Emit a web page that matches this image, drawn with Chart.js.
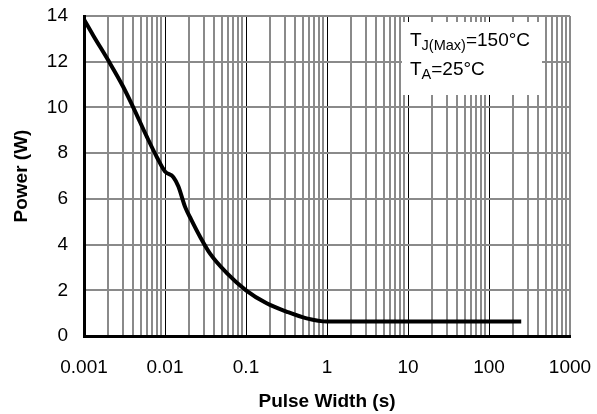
<!DOCTYPE html>
<html>
<head>
<meta charset="utf-8">
<script src="https://cdn.jsdelivr.net/npm/chart.js@4/dist/chart.umd.min.js"></script>
<style>
  html, body { margin: 0; padding: 0; background: #fff; }
  #wrap { width: 597px; height: 414px; }
</style>
</head>
<body>
<div id="wrap"><canvas id="chartPower"></canvas></div>
<script>
// pulse width (s) vs peak power (W)
var pulseWidth = [0.001, 0.0013, 0.002, 0.003, 0.004, 0.006, 0.008, 0.01, 0.0127, 0.0146, 0.0177, 0.021, 0.027, 0.036, 0.058, 0.1, 0.18, 0.32, 0.56, 1, 250];
var power = [13.85, 13.15, 12.05, 10.95, 10.05, 8.7, 7.8, 7.2, 6.95, 6.55, 5.65, 5.1, 4.35, 3.6, 2.75, 2.0, 1.43, 1.06, 0.77, 0.63, 0.63];

var xDecades = [0.001, 0.01, 0.1, 1, 10, 100, 1000];
var xDecadeLabels = ["0.001", "0.01", "0.1", "1", "10", "100", "1000"];
var yTicks = [0, 2, 4, 6, 8, 10, 12, 14];

var noteLines = [
  { main: "T", sub: "J(Max)", rest: "=150°C" },
  { main: "T", sub: "A", rest: "=25°C" },
];

const FONT = "'Liberation Sans', Arial, sans-serif";
const GRID_GRAY = "#8a8a8a";

const isDecade = (v) => xDecades.some((d) => Math.abs(v - d) / d < 1e-6);

// keep the plot box where the picture has it, labels may hang outside
const noScalePadding = (scale) => {
  scale.paddingTop = 0;
  scale.paddingBottom = 0;
  scale.paddingLeft = 0;
  scale.paddingRight = 0;
};

// white box with the junction / ambient temperatures
const notePlugin = {
  id: "noteBox",
  afterDraw(chart) {
    const ctx = chart.ctx;
    const area = chart.chartArea;
    const bx = area.left + 318, by = area.top + 6;
    ctx.save();
    ctx.fillStyle = "#fff";
    ctx.fillRect(bx, by, 140, 73);
    ctx.fillStyle = "#000";
    ctx.textBaseline = "alphabetic";
    noteLines.forEach((ln, i) => {
      let x = bx + 8;
      const y = by + 24 + i * 28.5;
      ctx.font = "19px " + FONT;
      ctx.fillText(ln.main, x, y);
      x += ctx.measureText(ln.main).width;
      ctx.font = "14.5px " + FONT;
      ctx.fillText(ln.sub, x, y + 4);
      x += ctx.measureText(ln.sub).width;
      ctx.font = "19px " + FONT;
      ctx.fillText(ln.rest, x, y);
    });
    ctx.restore();
  },
};

const ctxPower = document.getElementById("chartPower").getContext("2d");
const powerChart = new Chart(ctxPower, {
  type: "line",
  data: {
    datasets: [
      {
        label: "Power",
        data: pulseWidth.map((x, i) => ({ x: x, y: power[i] })),
        borderColor: "#000",
        borderWidth: 4,
        pointRadius: 0,
        cubicInterpolationMode: "monotone",
        fill: false,
      },
    ],
  },
  options: {
    responsive: true,
    maintainAspectRatio: false,
    animation: false,
    layout: { padding: { left: 10, right: 27, top: 16, bottom: 0 } },
    plugins: {
      legend: { display: false },
      tooltip: { enabled: false },
    },
    scales: {
      x: {
        type: "logarithmic",
        min: xDecades[0],
        max: xDecades[xDecades.length - 1],
        afterBuildTicks: (scale) => {
          const ticks = [];
          for (let d = 0; d < xDecades.length - 1; d++) {
            for (let k = 1; k < 10; k++) ticks.push({ value: xDecades[d] * k });
          }
          ticks.push({ value: xDecades[xDecades.length - 1] });
          scale.ticks = ticks;
        },
        afterFit: (scale) => {
          scale.height = 78;
          noScalePadding(scale);
        },
        ticks: {
          autoSkip: false,
          maxRotation: 0,
          padding: 20,
          color: "#000",
          font: { family: FONT, size: 19 },
          callback: (v) => {
            const i = xDecades.findIndex((d) => Math.abs(v - d) / d < 1e-6);
            return i >= 0 ? xDecadeLabels[i] : "";
          },
        },
        grid: {
          drawTicks: false,
          color: (c) => {
            const v = c.tick ? c.tick.value : 0;
            return isDecade(v) && v < 1000 ? "#000" : GRID_GRAY;
          },
          lineWidth: (c) => {
            const v = c.tick ? c.tick.value : 0;
            return isDecade(v) && v < 1000 ? 1 : 2;
          },
        },
        border: { color: "#000", width: 3 },
        title: {
          display: true,
          text: "Pulse Width (s)",
          color: "#000",
          font: { family: FONT, size: 19, weight: "bold" },
          padding: { top: 0, bottom: 1 },
        },
      },
      y: {
        min: yTicks[0],
        max: yTicks[yTicks.length - 1],
        afterBuildTicks: (scale) => {
          scale.ticks = yTicks.map((v) => ({ value: v }));
        },
        afterFit: (scale) => {
          scale.width = 74;
          noScalePadding(scale);
        },
        ticks: {
          padding: 16,
          color: "#000",
          font: { family: FONT, size: 19 },
        },
        grid: { drawTicks: false, color: GRID_GRAY, lineWidth: 2 },
        border: { color: "#000", width: 3 },
        title: {
          display: true,
          text: "Power (W)",
          color: "#000",
          font: { family: FONT, size: 19, weight: "bold" },
          padding: { top: 0, bottom: 0 },
        },
      },
    },
  },
  plugins: [notePlugin],
});
</script>
</body>
</html>
